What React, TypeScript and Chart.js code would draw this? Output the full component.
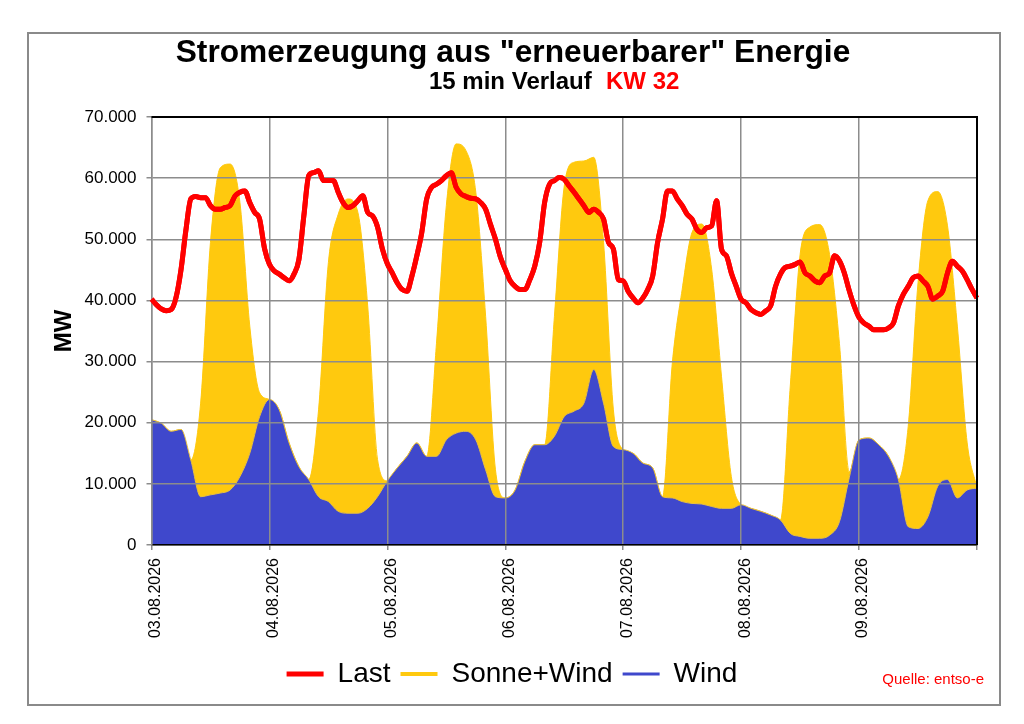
import { useEffect, useRef } from 'react'
import { Chart, registerables } from 'chart.js'

Chart.register(...registerables)

const FONT = '"Liberation Sans", Arial, Helvetica, sans-serif'

// Last: one value per hour, Sonne+Wind and Wind: one value every 2 hours
// (03.08. 00:00 up to 10.08. 00:00)
const LAST_STEP_HOURS = 1
const AREA_STEP_HOURS = 2
const dayLabels = ['03.08.2026', '04.08.2026', '05.08.2026', '06.08.2026', '07.08.2026', '08.08.2026', '09.08.2026']
const yTicks = [0, 10000, 20000, 30000, 40000, 50000, 60000, 70000]

const last = [
  40200, 39300, 38600, 38300, 38500, 40500, 45000, 51500, 56600, 57000, 56800, 56800,
  55500, 54900, 54900, 55200, 55500, 57100, 57700, 57900, 56000, 54400, 53300, 48500,
  45900, 44800, 44300, 43700, 43200, 44300, 46700, 53800, 60400, 60900, 61200, 59600,
  59600, 59600, 57700, 56000, 55200, 55500, 56300, 57100, 54400, 53800, 52000, 48400,
  46000, 44500, 42900, 41800, 41500, 44000, 47300, 51100, 56600, 58500, 59000, 59600,
  60400, 60900, 58500, 57400, 57000, 56700, 56600, 56000, 54900, 52400, 50000, 47100,
  45100, 43200, 42300, 41800, 41800, 43400, 45600, 49500, 56000, 59000, 59600, 60100,
  59800, 58700, 57700, 56600, 55500, 54400, 54900, 54400, 53300, 49500, 48400, 43400,
  43200, 41500, 40400, 39600, 40400, 41800, 44000, 49500, 53300, 57900, 57900, 56600,
  55500, 54100, 53300, 51600, 51100, 51900, 52200, 56300, 48400, 47300, 44500, 42300,
  40200, 39600, 38500, 38000, 37700, 38300, 39100, 42300, 44300, 45400, 45600, 45900,
  46300, 44500, 44000, 43200, 42900, 44000, 44500, 47300, 46500, 44500, 41600, 39100,
  37200, 36300, 35800, 35200, 35200, 35200, 35500, 36300, 39100, 41000, 42300, 43700,
  44000, 43200, 42300, 40200, 40700, 41500, 44500, 46400, 45600, 44800, 43400, 41800,
  40400,
]

const sonneWind = [
  20500, 19900, 18600, 18900, 13900, 23200, 49500, 61700, 62300, 56000, 35800, 24900,
  23800, 22100, 16700, 12800, 10700, 22100, 46200, 54100, 56600, 54400, 39100, 14000,
  10500, 12600, 14500, 16700, 14500, 33000, 55500, 65600, 64500, 57700, 37400, 12300,
  7700, 9000, 13700, 16400, 16400, 37400, 58700, 62600, 62800, 63400, 49500, 22100,
  15600, 15000, 13400, 12600, 7900, 29800, 41800, 51100, 52500, 45100, 27600, 11200,
  6600, 6000, 5500, 4900, 4100, 26000, 47500, 52000, 52400, 47500, 33000, 12000,
  17200, 17500, 16400, 14500, 10700, 19400, 42900, 56300, 57800, 52200, 35800, 16700,
  9300,
]

const wind = [
  20500, 19900, 18600, 18900, 13900, 7900, 8200, 8500, 9000, 11200, 15000, 21000,
  23800, 22100, 16700, 12800, 10700, 7900, 7100, 5500, 5200, 5200, 6000, 7900,
  10500, 12600, 14500, 16700, 14500, 14500, 17200, 18300, 18600, 17200, 12300, 7900,
  7700, 9000, 13700, 16400, 16400, 17800, 21000, 21900, 23200, 28700, 23200, 16100,
  15600, 15000, 13400, 12600, 7900, 7700, 7100, 6800, 6700, 6300, 6000, 6000,
  6600, 6000, 5500, 4900, 4100, 1900, 1400, 1100, 1100, 1600, 3800, 11000,
  17200, 17500, 16400, 14500, 10700, 3000, 2700, 4600, 9600, 10700, 7700, 9000,
  9300,
]

const RED = '#ff0000'
const YELLOW = '#ffc90e'
const BLUE = '#3f48cc'
const GRID = '#8c8c8c'

const fmt = (v: number) => String(v).replace(/\B(?=(\d{3})+(?!\d))/g, '.')

const toPoints = (values: number[], step: number) => values.map((y, i) => ({ x: i * step, y }))

// frame, headings, source note and plot border
const decorations = {
  id: 'decorations',
  beforeDraw(chart) {
    const { ctx, width, height } = chart
    ctx.save()
    ctx.fillStyle = '#ffffff'
    ctx.fillRect(0, 0, width, height)
    ctx.strokeStyle = '#8a8a8a'
    ctx.lineWidth = 2
    ctx.strokeRect(28, 33, 972, 672)
    ctx.restore()
  },
  afterDraw(chart) {
    const { ctx, chartArea } = chart
    // Last on top of the grid lines
    const meta = chart.getDatasetMeta(0)
    if (meta && meta.controller) meta.controller.draw()

    ctx.save()
    ctx.strokeStyle = '#000000'
    ctx.lineWidth = 2
    ctx.beginPath()
    ctx.moveTo(chartArea.left, chartArea.top)
    ctx.lineTo(chartArea.right, chartArea.top)
    ctx.lineTo(chartArea.right, chartArea.bottom)
    ctx.stroke()

    ctx.fillStyle = '#000000'
    ctx.textBaseline = 'alphabetic'
    ctx.textAlign = 'center'
    ctx.font = `bold 31.7px ${FONT}`
    ctx.fillText('Stromerzeugung aus "erneuerbarer" Energie', 513, 62)

    ctx.textAlign = 'left'
    ctx.font = `bold 24px ${FONT}`
    ctx.fillText('15 min Verlauf', 429, 89)
    ctx.fillStyle = RED
    ctx.fillText('KW 32', 606, 89)

    ctx.textAlign = 'right'
    ctx.font = `15px ${FONT}`
    ctx.fillText('Quelle: entso-e', 984, 684)
    ctx.restore()
  },
}

const legendItems = [
  { index: 0, color: RED, width: 5 },
  { index: 1, color: YELLOW, width: 4 },
  { index: 2, color: BLUE, width: 3 },
]

export default function App() {
  const chartRef = useRef<HTMLCanvasElement>(null)
  const chartInstance = useRef<Chart | null>(null)

  useEffect(() => {
    if (!chartRef.current) return
    if (chartInstance.current) chartInstance.current.destroy()

    chartInstance.current = new Chart(chartRef.current, {
      type: 'line',
      data: {
        datasets: [
          {
            label: 'Last',
            data: toPoints(last, LAST_STEP_HOURS),
            borderColor: RED,
            borderWidth: 5,
            fill: false,
            pointRadius: 0,
            cubicInterpolationMode: 'monotone',
            order: 0,
          },
          {
            label: 'Sonne+Wind',
            data: toPoints(sonneWind, AREA_STEP_HOURS),
            borderColor: YELLOW,
            backgroundColor: YELLOW,
            borderWidth: 1,
            fill: 'origin',
            pointRadius: 0,
            cubicInterpolationMode: 'monotone',
            order: 2,
          },
          {
            label: 'Wind',
            data: toPoints(wind, AREA_STEP_HOURS),
            borderColor: '#e8c040',
            backgroundColor: BLUE,
            borderWidth: 1,
            fill: 'origin',
            pointRadius: 0,
            cubicInterpolationMode: 'monotone',
            order: 1,
          },
        ],
      },
      options: {
        responsive: true,
        maintainAspectRatio: false,
        animation: false,
        events: [],
        layout: { padding: { top: 117, right: 47, bottom: 26, left: 47 } },
        font: { family: FONT },
        scales: {
          x: {
            type: 'linear',
            min: 0,
            max: dayLabels.length * 24,
            afterBuildTicks: (scale) => {
              scale.ticks = dayLabels.map((_, i) => ({ value: i * 24 })).concat([{ value: dayLabels.length * 24 }])
            },
            afterFit: (scale) => {
              scale.height = 105
            },
            grid: { color: GRID, lineWidth: 1.5, tickLength: 5, z: 1 },
            border: { color: '#000000', width: 1.5, z: 2 },
            ticks: {
              autoSkip: false,
              minRotation: 90,
              maxRotation: 90,
              padding: 8,
              labelOffset: 4,
              color: '#000000',
              font: { family: FONT, size: 16 },
              callback: (v) => dayLabels[Number(v) / 24] ?? '',
            },
          },
          y: {
            min: 0,
            max: 70000,
            afterBuildTicks: (scale) => {
              scale.ticks = yTicks.map((value) => ({ value }))
            },
            afterFit: (scale) => {
              scale.width = 104.5
            },
            grid: { color: GRID, lineWidth: 1.5, tickLength: 5, z: 1 },
            border: { color: GRID, width: 1.5, z: 2 },
            ticks: {
              padding: 10,
              color: '#000000',
              font: { family: FONT, size: 17 },
              callback: (v) => fmt(Number(v)),
            },
            title: {
              display: true,
              text: 'MW',
              color: '#000000',
              font: { family: FONT, size: 24, weight: 'bold' },
              padding: { top: 3, bottom: 0 },
            },
          },
        },
        plugins: {
          tooltip: { enabled: false },
          title: { display: false },
          legend: {
            position: 'bottom',
            labels: {
              usePointStyle: true,
              pointStyleWidth: 37,
              padding: 10,
              color: '#000000',
              font: { family: FONT, size: 28 },
              generateLabels: () =>
                legendItems.map((item) => ({
                  text: ['Last', 'Sonne+Wind', 'Wind'][item.index],
                  datasetIndex: item.index,
                  fillStyle: item.color,
                  strokeStyle: item.color,
                  lineWidth: item.width,
                  pointStyle: 'line',
                  hidden: false,
                  fontColor: '#000000',
                })),
            },
          },
        },
      },
      plugins: [decorations],
    })

    return () => {
      if (chartInstance.current) {
        chartInstance.current.destroy()
        chartInstance.current = null
      }
    }
  }, [])

  return (
    <div style={{ position: 'fixed', left: 0, top: 0, width: 1024, height: 724, background: '#ffffff' }}>
      <canvas ref={chartRef} />
    </div>
  )
}
